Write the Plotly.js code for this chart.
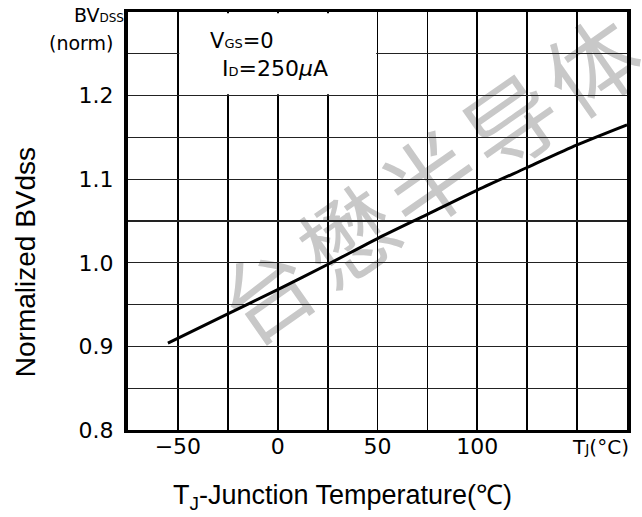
<!DOCTYPE html>
<html>
<head>
<meta charset="utf-8">
<script src="https://cdn.plot.ly/plotly-3.0.1.min.js"></script>
<style>
  html, body { margin: 0; padding: 0; background: #fff; }
  #wrap { position: relative; width: 642px; height: 517px; }
  .wm { position: absolute; width: 56px; height: 56px; margin-left: -28px; margin-top: -28px;
        transform: rotate(-35deg); display: flex; align-items: center; justify-content: center;
        overflow: visible; font-family: "Noto Sans CJK SC", sans-serif; font-size: 92px;
        color: #c8c8c8; white-space: nowrap; z-index: 0; line-height: 56px; }
  #chart { position: absolute; left: 0; top: 0; width: 642px; height: 517px; z-index: 1; }
</style>
</head>
<body>
<div id="wrap">
  <div id="wmbox"></div>
  <div id="chart"></div>
</div>
<script>
// Data
const tempC = [-55, -25, 0, 25, 50, 75, 100, 125, 150, 175];
const bvNorm = [0.904, 0.939, 0.968, 0.998, 1.029, 1.058, 1.087, 1.114, 1.141, 1.165];

// Axis ticks / grid
const xTickVals = [-75, -50, -25, 0, 25, 50, 75, 100, 125, 150, 175];
const xTickText = ['', '\u221250', '', '0', '', '50', '', '100', '', '', ''];
const yTickVals = [0.8, 0.85, 0.9, 0.95, 1.0, 1.05, 1.1, 1.15, 1.2, 1.25, 1.3];
const yTickText = ['0.8', '', '0.9', '', '1.0', '', '1.1', '', '1.2', '', ''];

// Watermark characters
const watermarkChars = ['台', '懋', '半', '导', '体'];

// place watermark characters along a diagonal behind the chart
(function () {
  const box = document.getElementById('wmbox');
  const sx = 264, sy = 290, ex = 590, ey = 62;
  const n = watermarkChars.length;
  watermarkChars.forEach((ch, i) => {
    const d = document.createElement('div');
    d.className = 'wm';
    d.textContent = ch;
    d.style.left = (sx + (ex - sx) * i / (n - 1)) + 'px';
    d.style.top = (sy + (ey - sy) * i / (n - 1)) + 'px';
    box.appendChild(d);
  });
})();

const tickFont = { family: 'DejaVu Sans', size: 22, color: '#000' };

const trace = {
  x: tempC, y: bvNorm, type: 'scatter', mode: 'lines',
  line: { color: '#000', width: 3, shape: 'spline', smoothing: 0.8 },
  hoverinfo: 'skip', showlegend: false
};

const layout = {
  width: 642, height: 517,
  margin: { l: 128, r: 15, t: 12, b: 87 },
  paper_bgcolor: 'rgba(0,0,0,0)', plot_bgcolor: 'rgba(0,0,0,0)',
  xaxis: {
    range: [-75, 175], tickvals: xTickVals, ticktext: xTickText,
    showgrid: true, gridcolor: '#000', gridwidth: 1.8,
    showline: true, linecolor: '#000', linewidth: 3, mirror: true,
    ticks: '', tickfont: tickFont, zeroline: false, ticklabelstandoff: -5
  },
  yaxis: {
    range: [0.8, 1.3], tickvals: yTickVals, ticktext: yTickText,
    showgrid: true, gridcolor: '#222', gridwidth: 1.2,
    showline: true, linecolor: '#000', linewidth: 4, mirror: true,
    ticks: '', tickfont: tickFont, zeroline: false, ticklabelstandoff: 6
  },
  shapes: [{
    type: 'rect', xref: 'x', yref: 'y', x0: -49.3, x1: 49.3, y0: 1.2015, y1: 1.2985,
    fillcolor: '#fff', line: { width: 0 }, layer: 'between'
  }],
  annotations: [
    { xref: 'paper', yref: 'paper', x: 0, y: 1.0, xanchor: 'right', yanchor: 'middle',
      xshift: -2, yshift: -3, showarrow: false,
      text: 'BV<span style="font-size:12px">DSS</span>',
      font: { family: 'DejaVu Sans', size: 19, color: '#000' } },
    { xref: 'paper', yref: 'paper', x: 0, y: 1.0, xanchor: 'right', yanchor: 'middle',
      xshift: -13, yshift: -31, showarrow: false, text: '(norm)',
      font: { family: 'DejaVu Sans', size: 19, color: '#000' } },
    { xref: 'paper', yref: 'paper', x: 0.16, y: 1.0, xanchor: 'left', yanchor: 'middle',
      yshift: -29, showarrow: false,
      text: 'V<span style="font-size:13px">GS</span>=0',
      font: { family: 'DejaVu Sans', size: 21, color: '#000' } },
    { xref: 'paper', yref: 'paper', x: 0.185, y: 1.0, xanchor: 'left', yanchor: 'middle',
      yshift: -56, showarrow: false,
      text: 'I<span style="font-size:13px">D</span>=250<i>μ</i>A',
      font: { family: 'DejaVu Sans', size: 22, color: '#000' } },
    { xref: 'paper', yref: 'paper', x: 0.947, y: 0, xanchor: 'center', yanchor: 'middle',
      yshift: -17, showarrow: false,
      text: 'T<span style="font-size:14px">J</span>(°C)',
      font: { family: 'DejaVu Sans', size: 20, color: '#000' } },
    { xref: 'paper', yref: 'paper', x: -0.206, y: 0.5, xanchor: 'center', yanchor: 'middle',
      yshift: -41, textangle: -90, showarrow: false, text: 'Normalized BVdss',
      font: { family: 'Liberation Sans, Arial', size: 28, color: '#000' } },
    { xref: 'paper', yref: 'paper', x: 0.429, y: 0, xanchor: 'center', yanchor: 'middle',
      yshift: -67, showarrow: false, text: 'T<sub>J</sub>-Junction Temperature(℃)',
      font: { family: 'Liberation Sans, Arial', size: 27, color: '#000' } }
  ]
};

Plotly.newPlot('chart', [trace], layout, { staticPlot: true, displayModeBar: false });
</script>
</body>
</html>
